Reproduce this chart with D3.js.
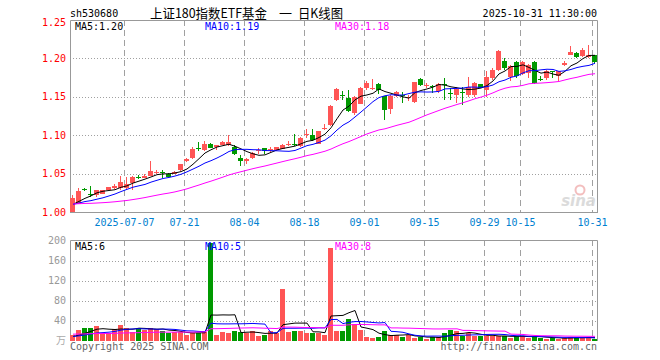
<!DOCTYPE html>
<html><head><meta charset="utf-8">
<script src="https://cdn.jsdelivr.net/npm/d3@7/dist/d3.min.js"></script>
<style>body{margin:0;background:#fff}svg{display:block}</style>
</head><body>
<svg id="c" width="660" height="360"></svg>
<script>
// ---------- DATA ----------
const dates = ["06-24","06-25","06-26","06-27","06-30",
"07-01","07-02","07-03","07-04","07-07","07-08","07-09","07-10","07-11","07-14","07-15","07-16","07-17","07-18","07-21","07-22","07-23","07-24","07-25","07-28","07-29","07-30","07-31",
"08-01","08-04","08-05","08-06","08-07","08-08","08-11","08-12","08-13","08-14","08-15","08-18","08-19","08-20","08-21","08-22","08-25","08-26","08-27","08-28","08-29",
"09-01","09-02","09-03","09-04","09-05","09-08","09-09","09-10","09-11","09-12","09-15","09-16","09-17","09-18","09-19","09-22","09-23","09-24","09-25","09-26","09-29","09-30",
"10-09","10-10","10-13","10-14","10-15","10-16","10-17","10-20","10-21","10-22","10-23","10-24","10-27","10-28","10-29","10-30","10-31"];
const opens = [1.000,1.011,1.030,1.024,1.022,1.024,1.029,1.031,1.031,1.031,1.038,1.046,1.044,1.047,1.051,1.052,1.050,1.049,1.055,1.066,1.070,1.083,1.081,1.089,1.085,1.087,1.087,1.085,1.070,1.066,
1.070,1.080,1.083,1.081,1.081,1.082,1.087,1.088,1.086,1.100,1.100,1.089,1.108,1.113,1.146,1.152,1.148,1.129,1.141,1.162,1.161,1.167,1.151,1.134,1.151,1.152,1.149,1.143,1.173,1.165,
1.164,1.157,1.167,1.155,1.152,1.156,1.152,1.152,1.167,1.159,1.174,1.185,1.196,1.176,1.195,1.180,1.181,1.195,1.173,1.174,1.183,1.177,1.192,1.205,1.207,1.203,1.202,1.204];
const highs = [1.022,1.031,1.031,1.034,1.029,1.029,1.033,1.036,1.047,1.046,1.047,1.048,1.050,1.066,1.055,1.055,1.051,1.053,1.063,1.070,1.085,1.091,1.092,1.090,1.087,1.092,1.100,1.087,1.074,1.070,
1.078,1.083,1.083,1.084,1.085,1.088,1.092,1.101,1.098,1.108,1.108,1.106,1.115,1.139,1.161,1.157,1.159,1.151,1.163,1.171,1.173,1.168,1.151,1.152,1.157,1.156,1.152,1.169,1.175,1.168,
1.165,1.168,1.174,1.161,1.163,1.163,1.176,1.169,1.167,1.183,1.187,1.211,1.200,1.192,1.197,1.196,1.193,1.196,1.177,1.185,1.184,1.184,1.196,1.216,1.208,1.214,1.218,1.205];
const lows = [1.000,1.010,1.027,1.020,1.020,1.023,1.028,1.030,1.029,1.030,1.029,1.043,1.044,1.047,1.049,1.044,1.045,1.049,1.054,1.065,1.069,1.079,1.080,1.083,1.081,1.087,1.086,1.074,1.060,1.063,
1.069,1.076,1.076,1.078,1.080,1.082,1.086,1.086,1.085,1.097,1.092,1.088,1.107,1.112,1.145,1.146,1.130,1.126,1.140,1.159,1.159,1.154,1.120,1.128,1.150,1.142,1.144,1.142,1.164,1.162,
1.155,1.155,1.146,1.146,1.142,1.139,1.150,1.150,1.161,1.150,1.172,1.183,1.185,1.170,1.174,1.178,1.175,1.167,1.170,1.172,1.174,1.171,1.190,1.205,1.201,1.202,1.201,1.193];
const closes = [1.018,1.027,1.029,1.023,1.028,1.028,1.032,1.034,1.039,1.037,1.046,1.045,1.047,1.053,1.052,1.051,1.046,1.052,1.062,1.069,1.082,1.082,1.089,1.083,1.087,1.091,1.091,1.076,1.066,1.069,
1.077,1.081,1.079,1.082,1.085,1.087,1.088,1.087,1.097,1.101,1.094,1.106,1.109,1.138,1.160,1.151,1.131,1.150,1.162,1.168,1.162,1.159,1.133,1.151,1.156,1.151,1.150,1.169,1.165,1.166,
1.163,1.167,1.165,1.154,1.160,1.155,1.163,1.168,1.161,1.176,1.185,1.209,1.187,1.190,1.177,1.195,1.192,1.168,1.172,1.184,1.182,1.184,1.194,1.208,1.202,1.211,1.204,1.195];
// volume in 万
const volumes = [11,21,26,26,29,16,16,23,31,26,17,26,21,26,23,19,15,17,17,12,15,16,17,195,11,17,15,19,17,15,
19,9,11,19,16,103,17,19,19,16,16,16,11,186,19,19,43,33,21,7,5,7,19,11,11,7,11,6,7,3,
7,7,15,21,19,9,16,9,9,9,9,9,9,6,9,9,6,9,5,4,5,4,5,7,6,6,6,4];
// sessions before the visible window (only feed the moving averages)
const prevCloses = [1.018,1.017,1.019,1.016,1.015,1.016,1.014,1.013,1.012,1.011,1.008,1.006,1.005,1.006,1.007,1.008,1.006,1.005,1.007,1.006,1.009,1.010,1.011,1.009,1.010,1.008,1.009,1.007,1.008];
const prevVolumes = [14,16,15,18,13,15,17,14,16,15,14,13,16,15,14,17,15,14,16,13,9,8,7,9,8,7,8,6,8];
const priceTicks = [1.25,1.20,1.15,1.10,1.05,1.00];
const volTicks = [200,160,120,80,40];
const xTickDates = ["07-07","07-21","08-04","08-18","09-01","09-15","09-29","10-15","10-31"];
const xTickLabels = ["2025-07-07","07-21","08-04","08-18","09-01","09-15","09-29","10-15","10-31"];
const maPeriods = [5,10,30];
const maColors = ["#000000","#0000ff","#ff00ff"];
const symbol = "sh530680";
const titleParts = ["上证180指数ETF基金", "一", "日K线图"];
const stamp = "2025-10-31 11:30:00";

// ---------- LAYOUT ----------
const L = 70, R = 598, T1 = 20, B1 = 212, T2 = 240, B2 = 341;
const mono = "'DejaVu Sans Mono', monospace";
const cjk = "'Noto Sans CJK SC', sans-serif";
const RED = "#ff5555", GREEN = "#009900", GRID = "#a0a0a0";

const svg = d3.select("#c");
svg.append("rect").attr("width",660).attr("height",360).attr("fill","#fff");

const x = d3.scaleBand().domain(dates).range([L, R]).padding(0);
const bw = x.bandwidth();
const y = d3.scaleLinear().domain([1.00, 1.25]).range([B1, T1]);
const yv = d3.scaleLinear().domain([0, 200]).range([B2 - 0.5, T2 + 0.5]);

function movingAvg(prev, vals, n) {
  const all = prev.concat(vals);
  return vals.map((v, i) => d3.mean(all.slice(prev.length + i - n + 1, prev.length + i + 1)));
}

// grid lines
function hGrid(scale, ticks) {
  svg.append("g").selectAll("line").data(ticks).join("line")
    .attr("x1", L).attr("x2", R)
    .attr("y1", d => Math.round(scale(d)) + 0.5).attr("y2", d => Math.round(scale(d)) + 0.5)
    .attr("stroke", GRID).attr("stroke-dasharray", "1,2");
}
hGrid(y, [1.20,1.15,1.10,1.05]);
hGrid(yv, [160,120,80,40]);
function vGrid(top, bot) {
  svg.append("g").selectAll("line").data(xTickDates).join("line")
    .attr("x1", d => x(d) + 0.5).attr("x2", d => x(d) + 0.5)
    .attr("y1", top).attr("y2", bot)
    .attr("stroke", GRID).attr("stroke-dasharray", "6,4");
}
vGrid(T1, B1); vGrid(T2, B2);

// panel borders
[[T1,B1],[T2,B2]].forEach(([t,b]) => {
  svg.append("path").attr("d", `M${L+0.5},${b}V${t+0.5}H${R-0.5}V${b}`)
    .attr("fill","none").attr("stroke","#999");
});
svg.append("line").attr("x1",L).attr("x2",R).attr("y1",B1+0.5).attr("y2",B1+0.5).attr("stroke","#999");

// watermark
const wm = svg.append("g").attr("opacity",0.9);
wm.append("circle").attr("cx",580).attr("cy",190).attr("r",4.5).attr("fill","none").attr("stroke","#f2b8b8").attr("stroke-width",2);
wm.append("text").attr("x",596).attr("y",206).attr("text-anchor","end")
  .attr("font-family","'DejaVu Sans', sans-serif").attr("font-style","italic").attr("font-weight","bold")
  .attr("font-size",15).attr("fill","#d8d8d8").text("sina");

// candles
const idx = d3.range(dates.length);
const up = i => closes[i] >= opens[i];
const cg = svg.append("g").attr("shape-rendering","crispEdges");
cg.selectAll("line").data(idx).join("line")
  .attr("x1", i => x(dates[i]) + 2.5).attr("x2", i => x(dates[i]) + 2.5)
  .attr("y1", i => y(highs[i])).attr("y2", i => y(lows[i]))
  .attr("stroke", i => up(i) ? RED : GREEN);
cg.selectAll("rect").data(idx).join("rect")
  .attr("x", i => x(dates[i])).attr("width", bw - 1)
  .attr("y", i => y(Math.max(opens[i], closes[i])))
  .attr("height", i => Math.max(1, y(Math.min(opens[i], closes[i])) - y(Math.max(opens[i], closes[i]))))
  .attr("fill", i => up(i) ? RED : GREEN);

// price MAs
const priceMA = maPeriods.map(n => movingAvg(prevCloses, closes, n));
const lineP = d3.line().x((d, i) => x(dates[i]) + bw / 2).y(d => y(d));
priceMA.forEach((m, k) => {
  svg.append("path").attr("d", lineP(m)).attr("fill","none").attr("stroke", maColors[k]).attr("stroke-width",1);
});

// volume bars
const vg = svg.append("g").attr("shape-rendering","crispEdges");
vg.selectAll("rect").data(idx).join("rect")
  .attr("x", i => x(dates[i])).attr("width", bw - 1)
  .attr("y", i => yv(volumes[i])).attr("height", i => yv(0) - yv(volumes[i]))
  .attr("fill", i => up(i) ? RED : GREEN);
const volMA = maPeriods.map(n => movingAvg(prevVolumes, volumes, n));
const lineV = d3.line().x((d, i) => x(dates[i]) + bw / 2).y(d => yv(d));
volMA.forEach((m, k) => {
  svg.append("path").attr("d", lineV(m)).attr("fill","none").attr("stroke", maColors[k]).attr("stroke-width",1);
});

// texts
function txt(xp, yp, s, opts = {}) {
  return svg.append("text").attr("x", xp).attr("y", yp)
    .attr("font-family", opts.font || mono).attr("font-size", opts.size || 10)
    .attr("fill", opts.fill || "#000").attr("text-anchor", opts.anchor || "start").text(s);
}
txt(70, 16.5, symbol);
txt(150, 17.5, titleParts[0], {font:cjk, size:13}).attr("textLength",117).attr("lengthAdjust","spacingAndGlyphs");
txt(279, 17.5, titleParts[1], {font:cjk, size:13});
txt(298, 17.5, titleParts[2], {font:cjk, size:13}).attr("textLength",45).attr("lengthAdjust","spacingAndGlyphs");
txt(597, 16.5, stamp, {anchor:"end"});

priceTicks.forEach(t => {
  const yy = Math.max(y(t), 22);
  txt(66, yy + 3.5, t.toFixed(2), {anchor:"end", fill:"#ff0000"});
});
volTicks.forEach(t => {
  txt(66, yv(t) + 3.5, String(t), {anchor:"end", fill:"#999999"});
});
txt(66, 344, "万", {anchor:"end", fill:"#aaaaaa", font:cjk, size:10});

xTickDates.forEach((d, k) => {
  txt(x(d) + 0.5, 225.5, xTickLabels[k], {anchor:"middle", fill:"#0080d0"});
});

const maX = [75, 205, 335];
priceMA.forEach((m, k) => {
  txt(maX[k], 29.5, `MA${maPeriods[k]}:${m[m.length-1].toFixed(2)}`, {fill: maColors[k]});
});
volMA.forEach((m, k) => {
  txt(maX[k], 249.5, `MA${maPeriods[k]}:${Math.round(m[m.length-1])}`, {fill: maColors[k]});
});

txt(70, 349.5, "Copyright 2025 SINA.COM", {fill:"#666666"});
txt(597, 349.5, "http://finance.sina.com.cn", {anchor:"end", fill:"#666666"});
</script>
</body></html>
